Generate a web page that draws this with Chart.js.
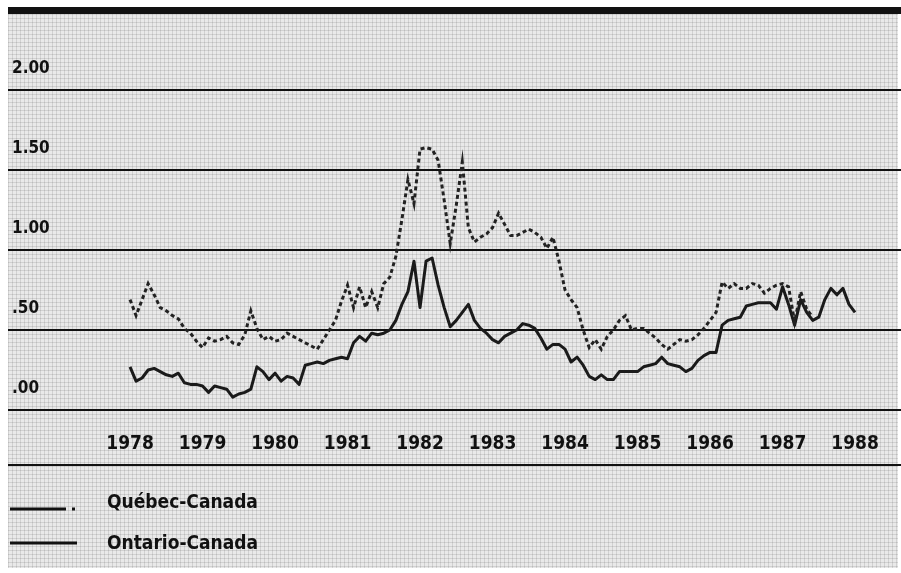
<!DOCTYPE html>
<html>
<head>
<meta charset="utf-8">
<script src="https://cdn.jsdelivr.net/npm/chart.js@4/dist/chart.umd.min.js"></script>
<style>
  html, body { margin: 0; padding: 0; background: #fff; }
  .wrap { position: relative; width: 901px; height: 573px; overflow: hidden; }
  .paper {
    position: absolute; left: 8px; top: 10px; width: 890px; height: 558px;
    background-color: #e9e9e9;
    background-image:
      linear-gradient(rgba(0,0,0,.10) 1px, transparent 1px),
      linear-gradient(90deg, rgba(0,0,0,.10) 1px, transparent 1px);
    background-size: 4px 4px;
  }
  canvas { position: absolute; left: 0; top: 0; }
  #legend { position: absolute; left: 10px; top: 480px; }
  #legend .item { display: flex; align-items: center; height: 41px; }
  #legend svg { width: 90px; height: 30px; margin-right: 7px; }
  #legend span {
    font-family: 'DejaVu Sans Condensed', 'Liberation Sans Narrow', sans-serif;
    font-weight: bold; font-size: 19px; color: #111;
  }
</style>
</head>
<body>
<div class="wrap">
  <div class="paper"></div>
  <canvas id="spreadChart" width="901" height="573"></canvas>
  <div id="legend"></div>
</div>
<script>
// monthly series, Jan 1978 onward
const startYear = 1978;
const yearLabels = [1978, 1979, 1980, 1981, 1982, 1983, 1984, 1985, 1986, 1987, 1988];
const yTicks = [0, 0.5, 1, 1.5, 2];

const quebecCanada = [
  0.69, 0.59, 0.69, 0.79, 0.72, 0.64, 0.62, 0.59, 0.57, 0.51, 0.48, 0.43,
  0.39, 0.45, 0.43, 0.44, 0.46, 0.42, 0.41, 0.47, 0.62, 0.51, 0.44, 0.46,
  0.43, 0.44, 0.48, 0.46, 0.44, 0.42, 0.40, 0.38, 0.44, 0.50, 0.56, 0.68,
  0.78, 0.64, 0.77, 0.64, 0.74, 0.64, 0.79, 0.83, 0.96, 1.19, 1.44, 1.29,
  1.63, 1.64, 1.63, 1.56, 1.31, 1.04, 1.28, 1.55, 1.14, 1.05, 1.08, 1.10,
  1.14, 1.23, 1.16, 1.09, 1.09, 1.11, 1.13, 1.11, 1.08, 1.01, 1.08, 0.93,
  0.75, 0.69, 0.64, 0.50, 0.39, 0.44, 0.38, 0.46, 0.50, 0.56, 0.59, 0.50,
  0.51, 0.51, 0.48, 0.45, 0.41, 0.38, 0.41, 0.44, 0.43, 0.44, 0.47, 0.51,
  0.56, 0.61, 0.80, 0.76, 0.79, 0.76, 0.76, 0.79, 0.78, 0.73, 0.76, 0.78,
  0.79, 0.77, 0.55, 0.74, 0.63, 0.58
];

const ontarioCanada = [
  0.27, 0.18, 0.20, 0.25, 0.26, 0.24, 0.22, 0.21, 0.23, 0.17, 0.16, 0.16,
  0.15, 0.11, 0.15, 0.14, 0.13, 0.08, 0.10, 0.11, 0.13, 0.27, 0.24, 0.19,
  0.23, 0.18, 0.21, 0.20, 0.16, 0.28, 0.29, 0.30, 0.29, 0.31, 0.32, 0.33,
  0.32, 0.42, 0.46, 0.43, 0.48, 0.47, 0.48, 0.50, 0.56, 0.66, 0.74, 0.93,
  0.64, 0.93, 0.95, 0.78, 0.64, 0.52, 0.56, 0.61, 0.66, 0.56, 0.51, 0.48,
  0.44, 0.42, 0.46, 0.48, 0.50, 0.54, 0.53, 0.51, 0.45, 0.38, 0.41, 0.41,
  0.38, 0.30, 0.33, 0.28, 0.21, 0.19, 0.22, 0.19, 0.19, 0.24, 0.24, 0.24,
  0.24, 0.27, 0.28, 0.29, 0.33, 0.29, 0.28, 0.27, 0.24, 0.26, 0.31, 0.34,
  0.36, 0.36, 0.53, 0.56, 0.57, 0.58, 0.65, 0.66, 0.67, 0.67, 0.67, 0.63,
  0.77, 0.66, 0.53, 0.69, 0.61, 0.56, 0.58, 0.69, 0.76, 0.72, 0.76, 0.66,
  0.61
];

const labelFont = "'DejaVu Sans Condensed', 'Liberation Sans Narrow', sans-serif";

function toPoints(values) {
  return values.map((v, i) => ({ x: startYear + i / 12, y: v }));
}

function tickText(v) {
  if (v >= 2.5) return '';
  const s = v.toFixed(2);
  return v < 1 ? s.slice(1) : s;
}

// line under the year labels
const separatorLine = {
  id: 'separatorLine',
  afterDraw(chart) {
    const ctx = chart.ctx;
    const y = chart.chartArea.bottom + 55;
    ctx.save();
    ctx.strokeStyle = '#111';
    ctx.lineWidth = 2;
    ctx.beginPath();
    ctx.moveTo(chart.chartArea.left, y);
    ctx.lineTo(chart.chartArea.right, y);
    ctx.stroke();
    ctx.restore();
  }
};

// stacked legend as html
const htmlLegend = {
  id: 'htmlLegend',
  afterUpdate(chart) {
    const box = document.getElementById('legend');
    box.innerHTML = '';
    chart.data.datasets.forEach((ds) => {
      const item = document.createElement('div');
      item.className = 'item';
      const dash = ds.legendDash ? ' stroke-dasharray="' + ds.legendDash + '"' : '';
      item.innerHTML =
        '<svg viewBox="0 0 90 30"><line x1="0" y1="' + ds.legendY + '" x2="' + ds.legendLen +
        '" y2="' + ds.legendY + '" stroke="#111" stroke-width="3"' + dash + '/></svg>' +
        '<span>' + ds.label + '</span>';
      box.appendChild(item);
    });
  }
};

const ctx = document.getElementById('spreadChart').getContext('2d');
const spreadChart = new Chart(ctx, {
  type: 'line',
  data: {
    datasets: [{
      label: 'Québec-Canada',
      data: toPoints(quebecCanada),
      borderColor: '#222',
      borderWidth: 3,
      borderDash: [4, 3],
      pointRadius: 0,
      tension: 0,
      legendDash: '56 6 3 40',
      legendY: 23,
      legendLen: 66
    }, {
      label: 'Ontario-Canada',
      data: toPoints(ontarioCanada),
      borderColor: '#1a1a1a',
      borderWidth: 3,
      borderJoinStyle: 'round',
      pointRadius: 0,
      tension: 0,
      legendY: 16,
      legendLen: 67
    }]
  },
  options: {
    responsive: false,
    animation: false,
    devicePixelRatio: 1,
    layout: { padding: { left: 8, right: 0, top: 10, bottom: 0 } },
    scales: {
      x: {
        type: 'linear',
        min: 1976.317,
        max: 1988.634,
        grid: { display: false },
        border: { display: false },
        ticks: {
          stepSize: 1,
          includeBounds: false,
          autoSkip: false,
          maxRotation: 0,
          padding: 15,
          color: '#111',
          font: { family: labelFont, size: 19, weight: 'bold' },
          callback: (v) => yearLabels.includes(v) ? String(v) : ''
        },
        afterFit(scale) {
          scale.height = 163;
          scale.paddingLeft = 0;
          scale.paddingRight = 0;
        }
      },
      y: {
        min: 0,
        max: 2.5,
        border: { display: false },
        grid: {
          color: '#111',
          drawTicks: false,
          lineWidth: (c) => c.tick && c.tick.value >= 2.5 ? 7 : 2
        },
        afterBuildTicks(scale) {
          scale.ticks = yTicks.concat([2.5]).map((v) => ({ value: v }));
        },
        ticks: {
          mirror: true,
          padding: 4,
          labelOffset: -21,
          color: '#111',
          font: { family: labelFont, size: 17, weight: 'bold' },
          callback: (v) => tickText(v)
        },
        afterFit(scale) {
          scale.width = 0;
          scale.paddingTop = 0;
          scale.paddingBottom = 0;
        }
      }
    },
    plugins: {
      legend: { display: false },
      tooltip: { enabled: false }
    }
  },
  plugins: [separatorLine, htmlLegend]
});
</script>
</body>
</html>
